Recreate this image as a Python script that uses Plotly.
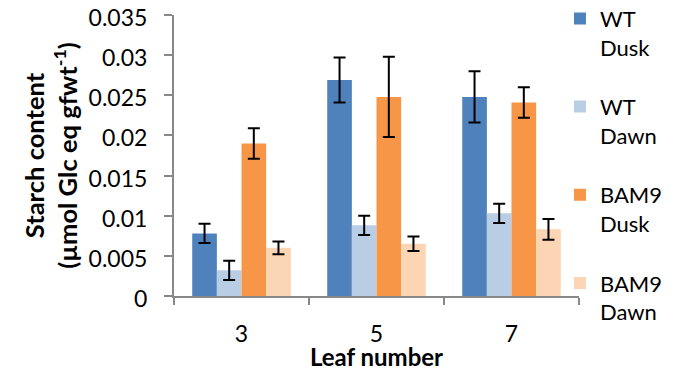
import plotly.graph_objects as go

categories = ["3", "5", "7"]
series_names = ["WT<br>Dusk", "WT<br>Dawn", "BAM9<br>Dusk", "BAM9<br>Dawn"]
wt_dusk = [0.0078, 0.0269, 0.0248]
wt_dusk_err = [0.0012, 0.0028, 0.0032]
wt_dawn = [0.0032, 0.0088, 0.0103]
wt_dawn_err = [0.0012, 0.0012, 0.0012]
bam9_dusk = [0.0190, 0.0248, 0.0241]
bam9_dusk_err = [0.0019, 0.0050, 0.0019]
bam9_dawn = [0.0060, 0.0065, 0.0083]
bam9_dawn_err = [0.0008, 0.0009, 0.0013]
colors = ["#4F81BD", "#B9CDE5", "#F79646", "#FCD5B5"]
y_ticks = [0, 0.005, 0.01, 0.015, 0.02, 0.025, 0.03, 0.035]
y_tick_labels = ["0", "0.005", "0.01", "0.015", "0.02", "0.025", "0.03", "0.035"]

font = "Lato, 'Open Sans', sans-serif"
values = [wt_dusk, wt_dawn, bam9_dusk, bam9_dawn]
errors = [wt_dusk_err, wt_dawn_err, bam9_dusk_err, bam9_dawn_err]

fig = go.Figure()
for i, (name, v, e, c) in enumerate(zip(series_names, values, errors, colors)):
    fig.add_trace(go.Bar(
        x=categories, y=v, name=name, legendgroup=f"g{i}",
        marker=dict(color=c, line=dict(width=0)),
        error_y=dict(type="data", array=e, visible=True, color="black", thickness=2, width=6),
    ))

# page has an 8px body margin, so the figure is 8px smaller and offsets shifted
fig.update_layout(
    width=668, height=363,
    margin=dict(l=166, r=97, t=7, b=75, autoexpand=False),
    paper_bgcolor="white", plot_bgcolor="white",
    barmode="group", bargap=0.27, bargroupgap=0,
    font=dict(family=font, size=22, color="black"),
    showlegend=True,
    legend=dict(x=0.953, xanchor="left", y=1.062, yanchor="top", maxheight=360,
                traceorder="grouped", tracegroupgap=28, valign="top",
                font=dict(size=22), itemwidth=30, bgcolor="rgba(0,0,0,0)"),
    xaxis=dict(
        type="category", showline=True, linecolor="#888888", linewidth=2,
        ticks="outside", tickson="boundaries", ticklen=7, tickcolor="#888888", tickwidth=2,
        tickfont=dict(size=23), showgrid=False, ticklabelstandoff=16,
        title=dict(text="<b>Leaf number</b>", font=dict(size=24), standoff=5),
    ),
    yaxis=dict(
        range=[0, 0.035], tickvals=y_ticks, ticktext=y_tick_labels,
        showline=True, linecolor="#888888", linewidth=2,
        ticks="outside", ticklen=8, tickcolor="#888888", tickwidth=2,
        showgrid=False, zeroline=False, tickfont=dict(size=23), ticklabelstandoff=12,
        ticklabeloverflow="allow", ticklabelshift=3,
        title=dict(text="<b>Starch content<br>(µmol Glc eq gfwt<sup>-1</sup>)</b>", font=dict(size=25.5), standoff=4),
    ),
)

fig.write_html("out.html")
